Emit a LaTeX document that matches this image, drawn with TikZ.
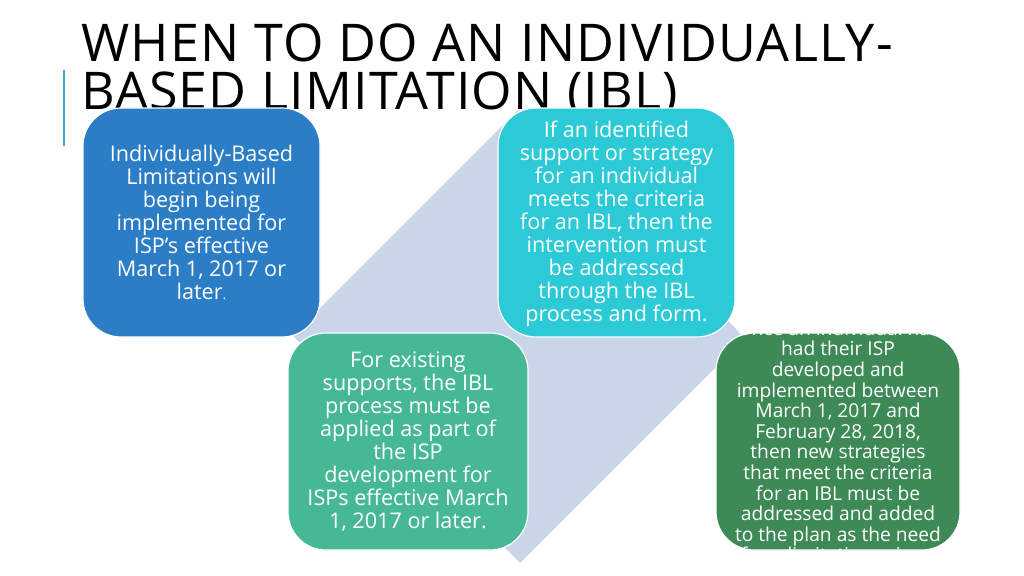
\documentclass[tikz,border=0pt]{standalone}
\usepackage{fontspec}
\setmainfont{Open Sans}
\definecolor{cBlue}{HTML}{2B7DC6}
\definecolor{cCyan}{HTML}{2CC9D7}
\definecolor{cTeal}{HTML}{46B894}
\definecolor{cGreen}{HTML}{3E8A56}
\definecolor{cDiam}{HTML}{C9D5E8}
\definecolor{cAccent}{HTML}{36A8CE}
\begin{document}
\begin{tikzpicture}[x=1pt,y=-1pt,
  box/.style={draw=white, line width=1.2pt, rounded corners=38pt, minimum width=#1, inner sep=0pt},
  boxtext/.style={text=white, align=center, font=\fontsize{21.6}{23}\selectfont, inner sep=0pt},
  ttl/.style={anchor=base west, inner sep=0pt, font=\fontsize{52}{48}\selectfont\addfontfeatures{LetterSpace=2.3}},
]
\useasboundingbox (0,0) rectangle (1024,575);
\fill[white] (0,0) rectangle (1024,575);
% accent bar
\draw[cAccent, line width=1.8pt] (64,70) coordinate (a1) -- (64,146) coordinate (a2);
% title
\node[ttl] (t1) at (81,62) {WHEN TO DO AN INDIVIDUALLY-};
\node[ttl] (t2) at (81,110) {BASED LIMITATION (IBL)};
% background diamond
\fill[cDiam] (292.5,335.5) -- (517.5,110.5) -- (745,338) -- (520,563) -- cycle;
% boxes
\filldraw[box=1, fill=cBlue] (83,108) rectangle (320,337);
\filldraw[box=1, fill=cCyan] (498,108) rectangle (735,337);
\filldraw[box=1, fill=cTeal] (288,333) rectangle (528,550);
\filldraw[box=1, fill=cGreen] (716,333) rectangle (960,550);
\coordinate (b1) at (201.5,222.5);
\coordinate (b2) at (616.5,223.5);
\coordinate (b3) at (408,441.5);
\coordinate (b4) at (838,441.5);
\node[boxtext] (x1) at (b1) {Individually-Based\\Limitations will\\begin being\\implemented for\\ISP’s effective\\March 1, 2017 or\\later{\fontsize{14}{23}\selectfont.}};
\node[boxtext] (x2) at (b2) {If an identified\\support or strategy\\for an individual\\meets the criteria\\for an IBL, then the\\intervention must\\be addressed\\through the IBL\\process and form.};
\node[boxtext] (x3) at (b3) {For existing\\supports, the IBL\\process must be\\applied as part of\\the ISP\\development for\\ISPs effective March\\1, 2017 or later.};
\node[boxtext, font=\fontsize{19.2}{20.6}\selectfont] (x4) at (b4) {Once an individual has\\had their ISP\\developed and\\implemented between\\March 1, 2017 and\\February 28, 2018,\\then new strategies\\that meet the criteria\\for an IBL must be\\addressed and added\\to the plan as the need\\for a limitation arises.};
\end{tikzpicture}
\end{document}
